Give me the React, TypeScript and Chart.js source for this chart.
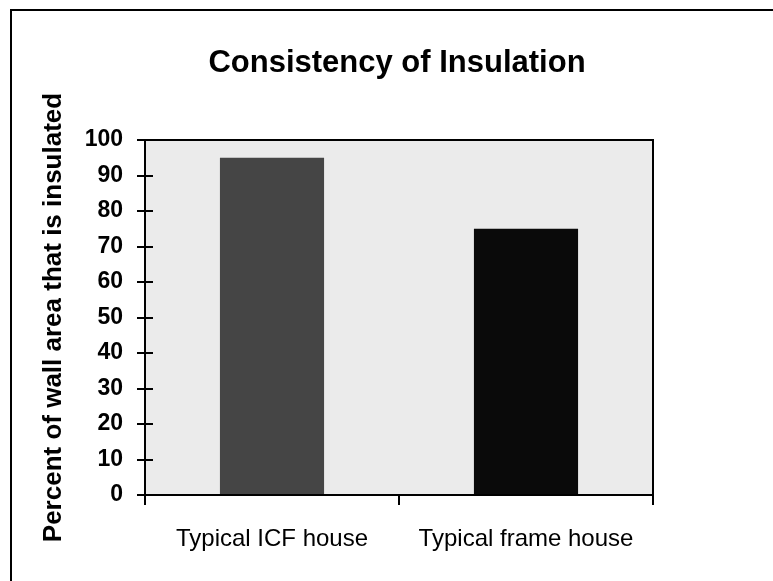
import React, { useEffect, useRef } from "react";
import { Chart, registerables } from "chart.js";

Chart.register(...registerables);

const chartTitle = "Consistency of Insulation";
const yAxisTitle = "Percent of wall area that is insulated";
const categories = ["Typical ICF house", "Typical frame house"];
const insulatedPercent = [95, 75];
const barColors = ["#454545", "#0a0a0a"];
const yMin = 0;
const yMax = 100;
const yStep = 10;

const framePlugin = {
  id: "framePlugin",
  beforeDraw(chart: any) {
    const { ctx, chartArea } = chart;
    ctx.save();
    ctx.fillStyle = "#ffffff";
    ctx.fillRect(0, 0, chart.width, chart.height);
    // outer frame (left & top visible)
    ctx.strokeStyle = "#000";
    ctx.lineWidth = 2;
    ctx.beginPath();
    ctx.moveTo(11, chart.height);
    ctx.lineTo(11, 10);
    ctx.lineTo(chart.width, 10);
    ctx.stroke();
    // plot background
    ctx.fillStyle = "#ebebeb";
    ctx.fillRect(chartArea.left, chartArea.top, chartArea.right - chartArea.left, chartArea.bottom - chartArea.top);
    // title
    ctx.fillStyle = "#000";
    ctx.font = "bold 31px 'Liberation Sans', Arial, sans-serif";
    ctx.textAlign = "center";
    ctx.textBaseline = "alphabetic";
    ctx.fillText(chartTitle, 397, 72);
    ctx.restore();
  },
  afterDatasetsDraw(chart: any) {
    const { ctx, chartArea } = chart;
    const y = chart.scales.y;
    ctx.save();
    ctx.strokeStyle = "#000";
    ctx.lineWidth = 2;
    ctx.strokeRect(chartArea.left, chartArea.top, chartArea.right - chartArea.left, chartArea.bottom - chartArea.top);
    ctx.beginPath();
    y.ticks.forEach((t: any) => {
      const py = Math.round(y.getPixelForValue(t.value));
      ctx.moveTo(chartArea.left, py);
      ctx.lineTo(chartArea.left + 8, py);
    });
    ctx.stroke();
    ctx.restore();
  },
};

export default function App() {
  const ref = useRef<HTMLCanvasElement | null>(null);
  useEffect(() => {
    if (!ref.current) return;
    const chart = new Chart(ref.current, {
      type: "bar",
      data: {
        labels: categories,
        datasets: [
          {
            data: insulatedPercent,
            backgroundColor: barColors,
            borderWidth: 0,
            barPercentage: 0.41,
            categoryPercentage: 1,
          },
        ],
      },
      options: {
        animation: false,
        responsive: false,
        devicePixelRatio: 1,
        layout: { padding: { left: 0, right: 120, top: 140, bottom: 0 } },
        plugins: {
          legend: { display: false },
          title: { display: false },
          tooltip: { enabled: false },
        },
        scales: {
          x: {
            afterFit: (s: any) => {
              s.height = 86;
            },
            grid: {
              offset: true,
              drawOnChartArea: false,
              tickLength: 10,
              color: "#000",
              lineWidth: 2,
            },
            border: { color: "#000", width: 2 },
            ticks: {
              color: "#000",
              padding: 20,
              maxRotation: 0,
              font: { family: "'Liberation Sans', Arial, sans-serif", size: 24 },
            },
          },
          y: {
            min: yMin,
            max: yMax,
            afterFit: (s: any) => {
              s.width = 145;
            },
            grid: {
              drawOnChartArea: false,
              tickLength: 8,
              color: "#000",
              lineWidth: 2,
            },
            border: { color: "#000", width: 2 },
            ticks: {
              stepSize: yStep,
              color: "#000",
              padding: 14,
              font: { family: "'Liberation Sans', Arial, sans-serif", size: 23, weight: "bold" },
            },
            title: {
              display: true,
              text: yAxisTitle,
              color: "#000",
              padding: { top: 38, bottom: 0 },
              font: { family: "'Liberation Sans', Arial, sans-serif", size: 26, weight: "bold" },
            },
          },
        },
      },
      plugins: [framePlugin],
    });
    return () => chart.destroy();
  }, []);
  return (
    <div style={{ position: "absolute", left: 0, top: 0, width: 773, height: 581, background: "#fff" }}>
      <canvas ref={ref} width={773} height={581} style={{ display: "block" }} />
    </div>
  );
}
